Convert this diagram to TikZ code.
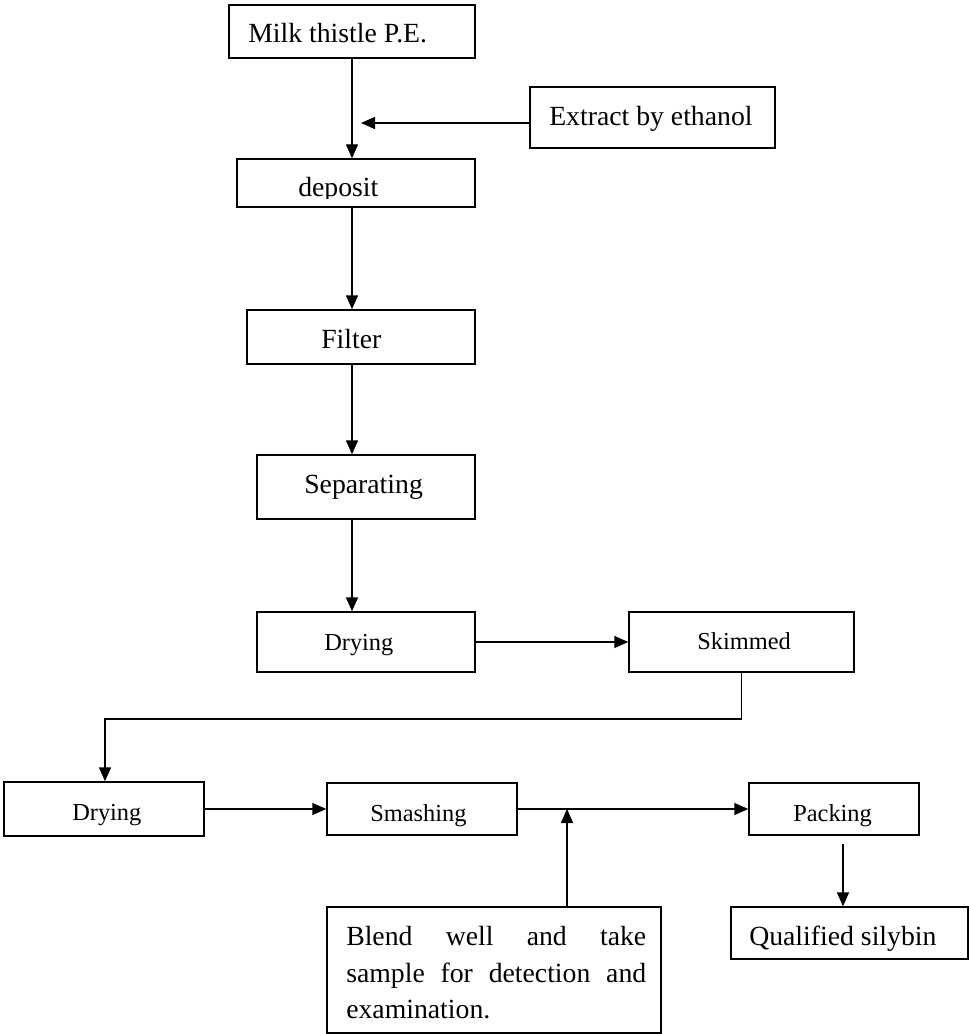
\documentclass[tikz,border=0pt]{standalone}
\usepackage{fontspec}
\setmainfont{Liberation Serif}
\usetikzlibrary{arrows.meta}
\begin{document}
\begin{tikzpicture}[x=0.75pt,y=-0.75pt,
  box/.style={draw,line width=1.1pt,inner sep=0pt},
  txt/.style={inner sep=0pt,anchor=base west,font=\fontsize{20.8}{25}\selectfont},
  stxt/.style={txt,font=\fontsize{18.3}{22}\selectfont},
  arr/.style={line width=1.1pt,-{Triangle[length=10.5pt,width=9pt]}}
]
\useasboundingbox (0,0) rectangle (969,1034);

% boxes
\node[box,minimum width=184.5pt,minimum height=39.75pt] (milk) at (352,31.5) {};
\node[box,minimum width=183.75pt,minimum height=45.75pt] (extract) at (652.5,117.5) {};
\node[box,minimum width=178.5pt,minimum height=36pt] (deposit) at (356,183) {};
\node[box,minimum width=171pt,minimum height=40.5pt] (filter) at (361,337) {};
\node[box,minimum width=163.5pt,minimum height=48pt] (separating) at (366,487) {};
\node[box,minimum width=163.5pt,minimum height=45pt] (drying1) at (366,642) {};
\node[box,minimum width=168.75pt,minimum height=45pt] (skimmed) at (741.5,642) {};
\node[box,minimum width=150pt,minimum height=40.5pt] (drying2) at (104,809) {};
\node[box,minimum width=142.5pt,minimum height=39pt] (smashing) at (422,809) {};
\node[box,minimum width=127.5pt,minimum height=39pt] (packing) at (834,809) {};
\node[box,minimum width=250.5pt,minimum height=94.5pt] (blend) at (494,970) {};
\node[box,minimum width=177.75pt,minimum height=39pt] (qualified) at (849.5,933) {};

% texts
\node[txt] (milk-t) at (248,43) {Milk thistle P.E.};
\node[txt] (extract-t) at (549,126) {Extract by ethanol};
\begin{scope}
  \clip (237,159) rectangle (475,198.5);
  \node[txt] (deposit-t) at (298,197) {deposit};
\end{scope}
\node[txt] (filter-t) at (321,348) {Filter};
\node[txt] (separating-t) at (304,493) {Separating};
\node[stxt] (drying1-t) at (324,650) {Drying};
\node[stxt] (skimmed-t) at (697,649) {Skimmed};
\node[stxt] (drying2-t) at (72,820) {Drying};
\node[stxt] (smashing-t) at (370,821) {Smashing};
\node[stxt] (packing-t) at (793,821) {Packing};
\node[txt] (qualified-t) at (749,945) {Qualified silybin};
\node[txt,anchor=north west,text width=225pt,align=justify,
      font=\fontsize{20.8}{27.4}\selectfont] (blend-t) at (346,926)
  {Blend well and take\linebreak sample for detection and\linebreak examination.};

% connectors
\coordinate (col) at (352,0);
\draw[arr] (milk.south) -- (milk.south |- deposit.north);
\coordinate (j1) at (361,123);
\draw[arr] (extract.west |- j1) -- (j1);
\draw[arr] (col |- deposit.south) -- (col |- filter.north);
\draw[arr] (col |- filter.south) -- (col |- separating.north);
\draw[arr] (col |- separating.south) -- (col |- drying1.north);
\draw[arr] (drying1.east) -- (skimmed.west);
\coordinate (bend) at (105,719);
\draw[arr] (skimmed.south) |- (bend) -- (bend |- drying2.north);
\draw[arr] (drying2.east) -- (smashing.west);
\draw[arr] (smashing.east) -- (packing.west);
\coordinate (j2) at (567,809);
\draw[arr] (blend.north -| j2) -- (j2);
\coordinate (p1) at (843,844);
\draw[arr] (p1) -- (p1 |- qualified.north);
\end{tikzpicture}
\end{document}
